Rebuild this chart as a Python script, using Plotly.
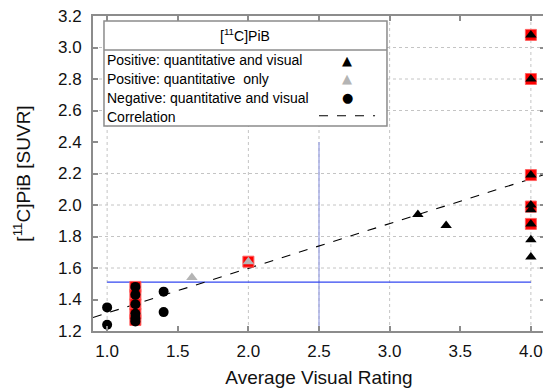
import plotly.graph_objects as go

# ---- data ----
pos_vis_x = [3.2, 3.4, 4.0, 4.0, 4.0, 4.0, 4.0, 4.0, 4.0, 4.0]
pos_vis_y = [1.94, 1.87, 3.08, 2.80, 2.19, 2.00, 1.97, 1.88, 1.78, 1.67]

pos_q_x = [1.6, 2.0]
pos_q_y = [1.54, 1.64]

neg_x = [1.0, 1.0, 1.2, 1.2, 1.2, 1.2, 1.2, 1.2, 1.4, 1.4]
neg_y = [1.35, 1.24, 1.48, 1.43, 1.37, 1.31, 1.28, 1.26, 1.45, 1.32]

flag_x = [4.0, 4.0, 4.0, 4.0, 4.0, 2.0, 1.2, 1.2, 1.2, 1.2, 1.2]
flag_y = [3.08, 2.80, 2.19, 1.99, 1.88, 1.64, 1.48, 1.43, 1.37, 1.31, 1.27]

fit_slope = 0.284
fit_intercept = 1.030
fit_x = [0.9, 4.1]

thresh_suvr = 1.51
thresh_suvr_x = [1.0, 4.0]
thresh_visual = 2.5
thresh_visual_y = [1.2, 2.4]

grid_x = [1.0, 2.0, 2.5, 3.0, 4.0]
grid_y = [1.6, 1.8, 2.0, 2.2, 2.6, 2.8, 3.0]

x_ticks = [1.0, 1.5, 2.0, 2.5, 3.0, 3.5, 4.0]
y_ticks = [1.2, 1.4, 1.6, 1.8, 2.0, 2.2, 2.4, 2.6, 2.8, 3.0, 3.2]

legend_title = "[<sup>11</sup>C]PiB"
legend_labels = ["Positive: quantitative and visual",
                 "Positive: quantitative  only",
                 "Negative: quantitative and visual",
                 "Correlation"]

FONT = "Liberation Sans, Arial, Helvetica, sans-serif"

fig = go.Figure()

# threshold lines
fig.add_trace(go.Scatter(x=[thresh_visual, thresh_visual], y=thresh_visual_y, mode="lines",
                         line=dict(color="rgba(150,158,225,0.6)", width=2),
                         showlegend=False, hoverinfo="skip"))
fig.add_trace(go.Scatter(x=thresh_suvr_x, y=[thresh_suvr, thresh_suvr], mode="lines",
                         line=dict(color="#3347f0", width=1.3),
                         showlegend=False, hoverinfo="skip"))

# correlation line
fit_y = [fit_intercept + fit_slope * v for v in fit_x]
fig.add_trace(go.Scatter(x=fit_x, y=fit_y, mode="lines",
                         line=dict(color="black", width=1.1, dash="dash"),
                         showlegend=False, hoverinfo="skip"))

# red highlight squares
fig.add_trace(go.Scatter(x=flag_x, y=flag_y, mode="markers",
                         marker=dict(symbol="square", size=11, color="#ff0000",
                                     line=dict(color="#ff6060", width=1)),
                         showlegend=False))

# data markers
fig.add_trace(go.Scatter(x=pos_vis_x, y=pos_vis_y, mode="markers",
                         marker=dict(symbol="triangle-up", size=10, color="black"),
                         showlegend=False))
fig.add_trace(go.Scatter(x=pos_q_x, y=pos_q_y, mode="markers",
                         marker=dict(symbol="triangle-up", size=10, color="#b4b4b4"),
                         showlegend=False))
fig.add_trace(go.Scatter(x=neg_x, y=neg_y, mode="markers",
                         marker=dict(symbol="circle", size=10, color="black"),
                         showlegend=False))

shapes = []
for gx in grid_x:
    shapes.append(dict(type="line", xref="x", yref="paper", x0=gx, x1=gx, y0=0, y1=1,
                       line=dict(color="#c4c4c4", width=1, dash="dot"), layer="below"))
for gy in grid_y:
    shapes.append(dict(type="line", xref="paper", yref="y", x0=0, x1=1, y0=gy, y1=gy,
                       line=dict(color="#c4c4c4", width=1, dash="dot"), layer="below"))

# custom legend box (paper coords)
L, R, T, B, SEP = 0.0243, 0.6504, 0.9841, 0.6508, 0.892
shapes.append(dict(type="rect", xref="paper", yref="paper", x0=L, x1=R, y0=B, y1=T,
                   fillcolor="white", line=dict(color="#8c8c8c", width=1.5), layer="above"))
shapes.append(dict(type="line", xref="paper", yref="paper", x0=L, x1=R, y0=SEP, y1=SEP,
                   line=dict(color="#8c8c8c", width=1.5), layer="above"))
row_y = [0.8603, 0.8000, 0.7397, 0.6794]
shapes.append(dict(type="line", xref="paper", yref="paper", x0=0.50, x1=0.624,
                   y0=row_y[3] + 0.004, y1=row_y[3] + 0.004,
                   line=dict(color="black", width=1.1, dash="dash"), layer="above"))

annotations = [dict(text=legend_title, xref="paper", yref="paper", x=0.336, y=0.9397,
                    showarrow=False, font=dict(family=FONT, size=14, color="black"),
                    xanchor="center", yanchor="middle")]
for lab, ry in zip(legend_labels, row_y):
    annotations.append(dict(text=lab, xref="paper", yref="paper", x=0.0265, y=ry,
                            showarrow=False, font=dict(family=FONT, size=14, color="black"),
                            xanchor="left", yanchor="middle"))
sym = [("▲", "black"), ("▲", "#b4b4b4"), ("●", "black")]
for (s, c), ry in zip(sym, row_y[:3]):
    annotations.append(dict(text=s, xref="paper", yref="paper", x=0.562, y=ry,
                            showarrow=False, font=dict(family="DejaVu Sans", size=13, color=c),
                            xanchor="center", yanchor="middle"))

axis_common = dict(showline=True, linecolor="#8c8c8c", linewidth=2, mirror="ticks",
                   ticks="inside", ticklen=5, tickcolor="#8c8c8c", tickwidth=1.5,
                   showgrid=False, zeroline=False, ticklabeloverflow="allow",
                   automargin=False,
                   tickfont=dict(family=FONT, size=17, color="#111"))

fig.update_layout(
    width=543, height=380,
    margin=dict(l=85, r=6, t=8, b=57),
    paper_bgcolor="white", plot_bgcolor="white",
    showlegend=False,
    xaxis=dict(range=[0.9, 4.1], tickvals=x_ticks, ticktext=[f"{v:.1f}" for v in x_ticks],
               ticklabelstandoff=4,
               title=dict(text="Average Visual Rating", font=dict(family=FONT, size=19, color="#111"),
                          standoff=14),
               **axis_common),
    yaxis=dict(range=[1.2, 3.2], tickvals=y_ticks, ticktext=[f"{v:.1f}" for v in y_ticks],
               ticklabelstandoff=6,
               title=dict(text="[<sup>11</sup>C]PiB [SUVR]", font=dict(family=FONT, size=19, color="#111"),
                          standoff=22),
               **axis_common),
    shapes=shapes,
    annotations=annotations,
)

fig.write_html("out.html")
